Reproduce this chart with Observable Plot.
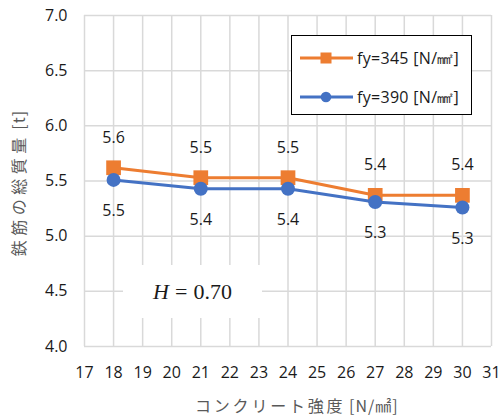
<!DOCTYPE html>
<html><head><meta charset="utf-8">
<script src="https://cdn.jsdelivr.net/npm/d3@7"></script>
<script src="https://cdn.jsdelivr.net/npm/@observablehq/plot@0.6"></script>
<style>
body{margin:0;background:#fff;}
#wrap{position:relative;width:502px;height:419px;overflow:hidden;}
.legend{position:absolute;left:291px;top:35px;width:179px;height:78px;border:1.3px solid #000;background:#fff;font-family:"Open Sans",sans-serif;font-size:16px;color:#1a1a1a;}
.row{position:absolute;left:0;height:22px;display:flex;align-items:center;white-space:nowrap;letter-spacing:0.3px;}
.note{position:absolute;left:123px;top:265px;width:139px;height:53px;background:#fff;display:flex;align-items:center;justify-content:center;font-family:"Liberation Serif",serif;font-size:22px;color:#1a1a1a;}
.title{position:absolute;font-family:"Noto Sans CJK JP",sans-serif;font-size:16px;color:#595959;white-space:nowrap;line-height:20px;}
.title .cjk{letter-spacing:var(--ls);}
</style></head>
<body><div id="wrap"></div>
<script>
const strength = [18, 21, 24, 27, 30];
const fy345 = [5.62, 5.53, 5.53, 5.37, 5.37];
const fy390 = [5.51, 5.43, 5.43, 5.31, 5.26];
const seriesNames = ["fy=345 [N/㎟]", "fy=390 [N/㎟]"];
const xTicks = d3.range(17, 32);
const yTicks = [4.0, 4.5, 5.0, 5.5, 6.0, 6.5, 7.0];
const yTitle = ["鉄筋の総質量", "[t]"];
const xTitle = ["コンクリート強度", "[N/㎟]"];
const noteText = "0.70";

const orange = "#ED7D31", blue = "#4472C4";
const d345 = strength.map((x, i) => ({x, y: fy345[i]}));
const d390 = strength.map((x, i) => ({x, y: fy390[i]}));
const fmt = d3.format(".1f");

const chart = Plot.plot({
  width: 502, height: 419,
  marginLeft: 84, marginRight: 11, marginTop: 15, marginBottom: 73,
  style: {fontFamily: "'Open Sans', sans-serif", fontSize: "16px", color: "#1a1a1a", background: "#fff"},
  x: {domain: [17, 31]},
  y: {domain: [4, 7]},
  marks: [
    Plot.gridX(xTicks, {stroke: "#d9d9d9", strokeOpacity: 1, strokeWidth: 1.5}),
    Plot.gridY(yTicks, {stroke: "#d9d9d9", strokeOpacity: 1, strokeWidth: 1.5}),
    Plot.axisX({ticks: xTicks, tickSize: 0, tickPadding: 20, label: null, fill: "#1a1a1a"}),
    Plot.axisY({ticks: yTicks, tickFormat: fmt, tickSize: 0, tickPadding: 17, label: null, fill: "#1a1a1a"}),
    Plot.line(d345, {x: "x", y: "y", stroke: orange, strokeWidth: 3}),
    Plot.dot(d345, {x: "x", y: "y", symbol: "square", r: 8.3, fill: orange, stroke: "none"}),
    Plot.line(d390, {x: "x", y: "y", stroke: blue, strokeWidth: 3}),
    Plot.dot(d390, {x: "x", y: "y", symbol: "circle", r: 7, fill: blue, stroke: "none"}),
    Plot.text(d345, {x: "x", y: "y", text: d => fmt(d.y), dy: -30, fill: "#1a1a1a", fontSize: 16}),
    Plot.text(d390, {x: "x", y: "y", text: d => fmt(d.y), dy: 31, fill: "#1a1a1a", fontSize: 16})
  ]
});
const wrap = document.getElementById("wrap");
wrap.appendChild(chart);

function title(parts, ls, cx, cy, rot) {
  const el = document.createElement("div");
  el.className = "title";
  el.style.setProperty("--ls", ls);
  el.innerHTML = `<span class="cjk">${parts[0]}</span> <span style="letter-spacing:1px">${parts[1]}</span>`;
  wrap.appendChild(el);
  const w = el.offsetWidth, h = el.offsetHeight;
  el.style.left = (cx - w / 2) + "px";
  el.style.top = (cy - h / 2) + "px";
  if (rot) el.style.transform = `rotate(${rot}deg)`;
}
title(yTitle, "4.5px", 18, 183, -90);
title(xTitle, "2.8px", 297, 405, 0);

const leg = document.createElement("div");
leg.className = "legend";
[[orange, "square"], [blue, "circle"]].forEach(([c, s], i) => {
  const row = document.createElement("div");
  row.className = "row";
  row.style.top = (i === 0 ? 11 : 50) + "px";
  const sw = `<svg width="62" height="20" style="margin-left:7px"><line x1="1" x2="54" y1="10" y2="10" stroke="${c}" stroke-width="3"/>` +
    (s === "square" ? `<rect x="${27-5.5}" y="4.5" width="11" height="11" fill="${c}"/>` : `<circle cx="27" cy="10" r="5.3" fill="${c}"/>`) + `</svg>`;
  row.innerHTML = sw + `<span style="margin-left:-4px">${seriesNames[i]}</span>`;
  leg.appendChild(row);
});
wrap.appendChild(leg);

const note = document.createElement("div");
note.className = "note";
note.innerHTML = `<span><i>H</i><span style="margin:0 6px">=</span>${noteText}</span>`;
wrap.appendChild(note);
</script></body></html>
